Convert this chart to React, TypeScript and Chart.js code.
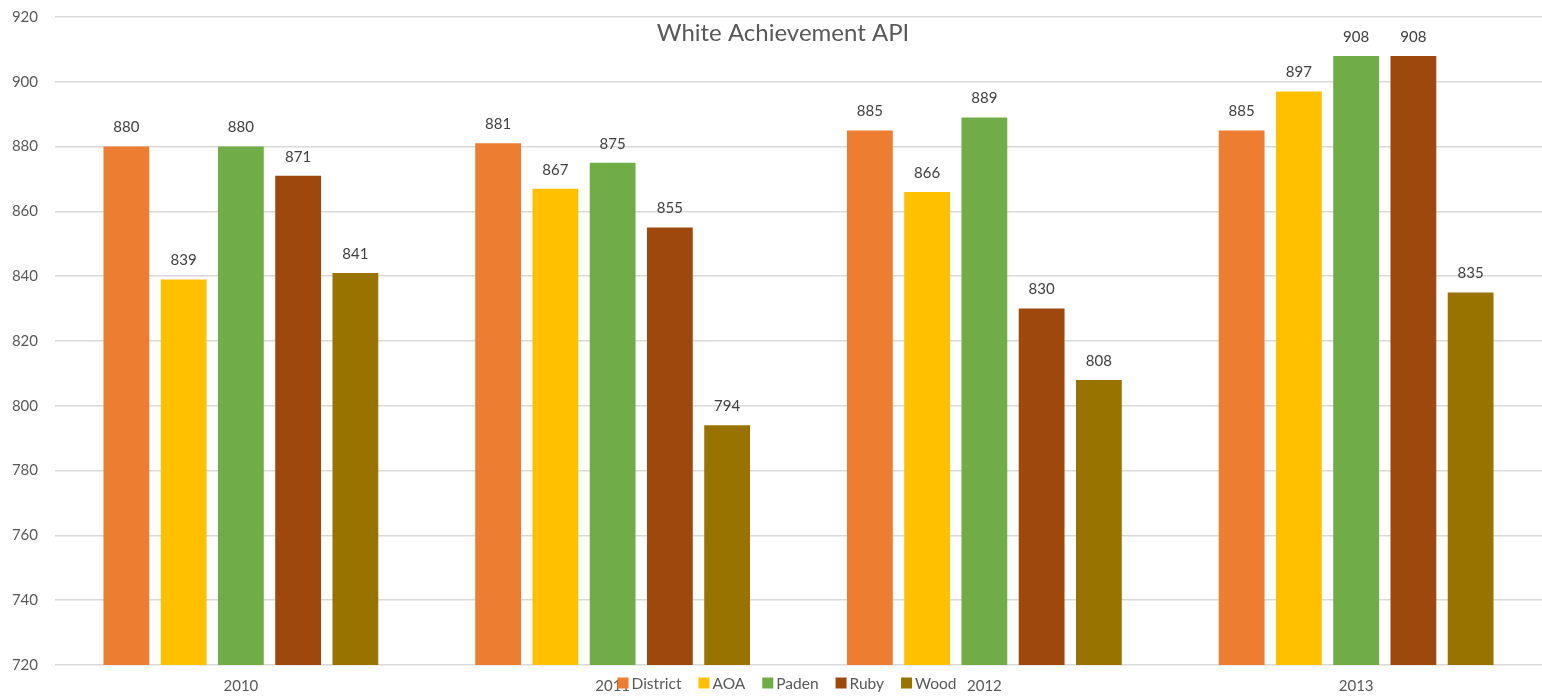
import React, { useEffect, useRef } from "react";
import { Chart, registerables } from "chart.js";

Chart.register(...registerables);

const categories = ["2010", "2011", "2012", "2013"];
const seriesNames = ["District", "AOA", "Paden", "Ruby", "Wood"];
const district = [880, 881, 885, 885];
const aoa = [839, 867, 866, 897];
const paden = [880, 875, 889, 908];
const ruby = [871, 855, 830, 908];
const wood = [841, 794, 808, 835];
const seriesColors = ["#ED7D31", "#FFC000", "#70AD47", "#9E480E", "#997300"];
const yMin = 720;
const yMax = 920;
const yStep = 20;
const titleText = "White Achievement API";

const FONT = "Lato, 'Open Sans', sans-serif";

const overlayPlugin = {
  id: "overlay",
  afterDatasetsDraw(chart: any) {
    const ctx = chart.ctx;
    ctx.save();
    // data labels
    ctx.font = `15px ${FONT}`;
    ctx.fillStyle = "#404040";
    ctx.textAlign = "center";
    ctx.textBaseline = "middle";
    chart.data.datasets.forEach((ds: any, i: number) => {
      const meta = chart.getDatasetMeta(i);
      meta.data.forEach((bar: any, j: number) => {
        ctx.fillText(String(ds.data[j]), bar.x, bar.y - 19);
      });
    });
    // title
    ctx.font = `24px ${FONT}`;
    ctx.fillStyle = "#595959";
    ctx.fillText(titleText, 783, 33);
    // legend
    ctx.font = `15.5px ${FONT}`;
    const box = 11;
    const gapText = 3;
    const gapItem = 17;
    const widths = chart.data.datasets.map((ds: any) => box + gapText + ctx.measureText(ds.label).width);
    const total = widths.reduce((a: number, b: number) => a + b, 0) + gapItem * (widths.length - 1);
    let x = 787 - total / 2;
    const y = 683;
    ctx.textAlign = "left";
    chart.data.datasets.forEach((ds: any, i: number) => {
      ctx.fillStyle = ds.backgroundColor;
      ctx.fillRect(x, y - box / 2, box, box);
      ctx.fillStyle = "#595959";
      ctx.fillText(ds.label, x + box + gapText, y + 1);
      x += widths[i] + gapItem;
    });
    ctx.restore();
  },
};

export default function App() {
  const ref = useRef<HTMLCanvasElement>(null);
  useEffect(() => {
    document.body.style.margin = "0";
    const values = [district, aoa, paden, ruby, wood];
    const chart = new Chart(ref.current!, {
      type: "bar",
      data: {
        labels: categories,
        datasets: seriesNames.map((name, i) => ({
          label: name,
          data: values[i],
          backgroundColor: seriesColors[i],
          categoryPercentage: 0.77,
          barPercentage: 0.8,
        })),
      },
      options: {
        animation: false,
        responsive: false,
        devicePixelRatio: 1,
        layout: { padding: { top: 17, right: 0, left: 0, bottom: 0 } },
        plugins: {
          legend: { display: false },
          title: { display: false },
          tooltip: { enabled: false },
        },
        scales: {
          x: {
            grid: { display: false, drawTicks: false },
            border: { display: false },
            ticks: { color: "#595959", font: { family: FONT, size: 15 }, padding: 12 },
            afterFit(scale: any) {
              scale.height = 32;
              scale.paddingLeft = 0;
              scale.paddingRight = 0;
            },
          },
          y: {
            min: yMin,
            max: yMax,
            ticks: { stepSize: yStep, color: "#595959", font: { family: FONT, size: 15 }, padding: 17 },
            grid: { color: "#d9d9d9", lineWidth: 1.5, drawTicks: false },
            border: { display: false },
            afterFit(scale: any) {
              scale.width = 55;
              scale.paddingTop = 0;
              scale.paddingBottom = 0;
            },
          },
        },
      },
      plugins: [overlayPlugin],
    });
    return () => chart.destroy();
  }, []);
  return (
    <div style={{ position: "fixed", left: 0, top: 0, width: 1542, height: 697, background: "#fff" }}>
      <canvas ref={ref} width={1542} height={697} style={{ width: 1542, height: 697 }} />
    </div>
  );
}
